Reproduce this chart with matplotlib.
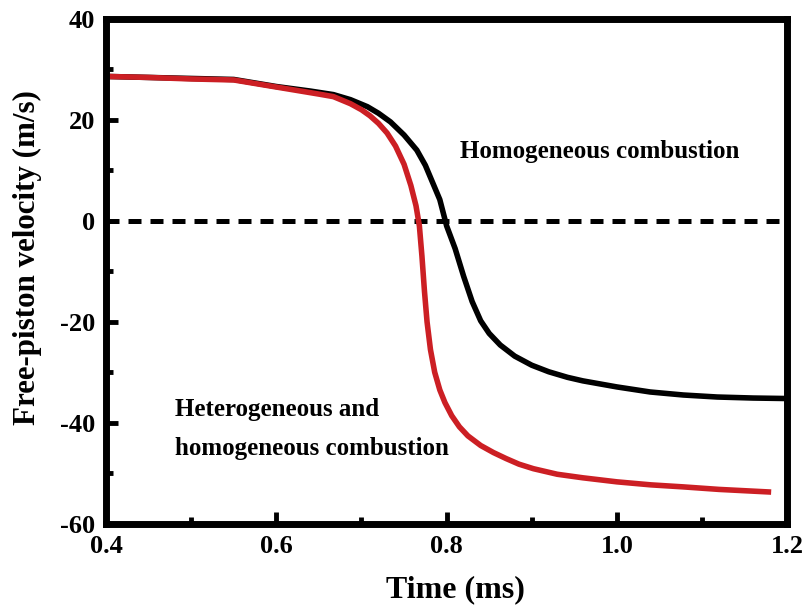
import numpy as np
import matplotlib.pyplot as plt
from matplotlib.ticker import MultipleLocator

plt.rcParams['font.family'] = 'Liberation Serif'
plt.rcParams['font.weight'] = 'bold'
plt.rcParams['axes.labelweight'] = 'bold'
plt.rcParams['axes.unicode_minus'] = False

# homogeneous combustion (black)
t_homo = [0.40, 0.45, 0.50, 0.55, 0.60, 0.64, 0.667, 0.687, 0.707, 0.72, 0.734,
          0.75, 0.765, 0.775, 0.785, 0.792, 0.80, 0.81, 0.82, 0.83, 0.84,
          0.85, 0.863, 0.88, 0.90, 0.92, 0.942, 0.96, 0.98, 1.00, 1.039,
          1.078, 1.118, 1.16, 1.20]
v_homo = [28.6, 28.4, 28.2, 28.0, 26.6, 25.7, 25.0, 24.0, 22.6, 21.3, 19.6,
          17.0, 14.0, 11.0, 7.0, 4.2, -1.0, -5.5, -11.0, -16.0, -19.8,
          -22.3, -24.6, -26.8, -28.6, -29.9, -31.0, -31.7, -32.3, -32.9, -33.9,
          -34.5, -34.9, -35.1, -35.2]

# heterogeneous and homogeneous combustion (red)
t_het = [0.40, 0.45, 0.50, 0.55, 0.60, 0.65, 0.667, 0.687, 0.70, 0.71, 0.72,
         0.73, 0.74, 0.75, 0.758, 0.764, 0.768, 0.771, 0.774, 0.777, 0.781,
         0.786, 0.792, 0.798, 0.806, 0.815, 0.825, 0.84, 0.855, 0.87, 0.885,
         0.902, 0.93, 0.96, 1.00, 1.04, 1.078, 1.12, 1.178]
v_het = [28.6, 28.4, 28.1, 27.9, 26.5, 25.1, 24.6, 23.2, 22.0, 20.8, 19.3,
         17.4, 14.8, 11.2, 7.0, 3.0, -1.0, -7.0, -14.0, -20.0, -25.5,
         -30.0, -33.5, -36.0, -38.6, -40.8, -42.6, -44.5, -45.9, -47.1, -48.2,
         -49.1, -50.2, -50.9, -51.7, -52.3, -52.7, -53.2, -53.7]

fig = plt.figure(figsize=(8.04, 6.09), dpi=100)
ax = fig.add_axes([0.132, 0.140, 0.847, 0.829])

ax.axhline(0, color='black', lw=3.6, dashes=(2.6, 1.8))
ax.plot(t_homo, v_homo, color='black', lw=4, solid_joinstyle='round')
ax.plot(t_het, v_het, color='#CC1F24', lw=4, solid_joinstyle='round')

ax.text(0.816, 13.7, 'Homogeneous combustion', fontsize=18, va='center')
ax.text(0.481, -37.4, 'Heterogeneous and', fontsize=18, va='center')
ax.text(0.481, -45.1, 'homogeneous combustion', fontsize=18, va='center')

ax.set_xlim(0.4, 1.2)
ax.set_ylim(-60, 40)
ax.xaxis.set_minor_locator(MultipleLocator(0.1))
ax.yaxis.set_major_locator(MultipleLocator(20))
ax.yaxis.set_minor_locator(MultipleLocator(10))
ax.set_xticks([0.4, 0.6, 0.8, 1.0, 1.2])
ax.set_xticklabels(['0.4', '0.6', '0.8', '1.0', '1.2'])

ax.tick_params(which='both', direction='in', top=False, right=False, labelsize=19, pad=8)
ax.tick_params(which='major', length=8.5, width=3.5)
ax.tick_params(which='minor', length=5, width=3.5)
for s in ax.spines.values():
    s.set_linewidth(5)

ax.set_xlabel('Time (ms)', fontsize=23)
ax.set_ylabel('Free-piston velocity (m/s)', fontsize=22.3)
ax.xaxis.set_label_coords(0.5125, -0.101)
ax.yaxis.set_label_coords(-0.094, 0.527)

fig.savefig('out.png', dpi=100)
